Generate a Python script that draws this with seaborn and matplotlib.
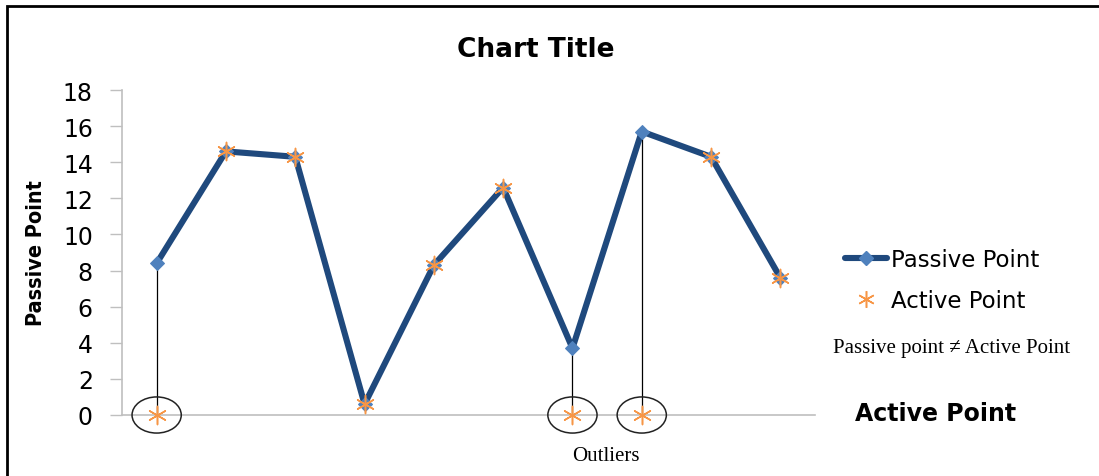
import matplotlib
matplotlib.use("Agg")
import matplotlib.pyplot as plt
from matplotlib.lines import Line2D
from matplotlib.patches import Ellipse, Rectangle
import seaborn as sns
import pandas as pd

# Chart data
points = [1, 2, 3, 4, 5, 6, 7, 8, 9, 10]
passive = [8.4, 14.6, 14.3, 0.6, 8.3, 12.6, 3.7, 15.7, 14.3, 7.6]
active = [0, 14.6, 14.3, 0.6, 8.3, 12.6, 0, 0, 14.3, 7.6]
y_ticks = [0, 2, 4, 6, 8, 10, 12, 14, 16, 18]

df = pd.DataFrame({"point": points, "passive": passive, "active": active})
outliers = df[df["passive"] != df["active"]]

sns.set_theme(style="white")
plt.rcParams["font.family"] = ["DejaVu Sans"]
plt.rcParams["text.color"] = "black"
plt.rcParams["axes.labelcolor"] = "black"

W, H = 1099, 477
fig = plt.figure(figsize=(W / 100, H / 100), dpi=100)
ax = fig.add_axes([122 / W, 61 / H, 693 / W, 325 / H])

line_col = "#1F497D"
marker_col = "#4F81BD"
star_col = "#F79646"
axis_col = "#BFBFBF"
serif = ["Liberation Serif", "DejaVu Serif"]

sns.lineplot(data=df, x="point", y="passive", ax=ax, color=line_col, lw=4.4,
             marker="D", markersize=7, markerfacecolor=marker_col,
             markeredgecolor=marker_col, zorder=3, clip_on=False)
sns.scatterplot(data=df, x="point", y="active", ax=ax, marker=(6, 2, 0),
                s=170, color=star_col, edgecolor=star_col, linewidth=1.1,
                zorder=4, clip_on=False)

# drop lines and rings marking the outliers
ax.vlines(outliers["point"], outliers["active"], outliers["passive"],
          color="black", lw=0.9, zorder=2)
for p in outliers["point"]:
    ax.add_patch(Ellipse((p, 0), width=0.71, height=2.0, fill=False,
                         edgecolor="#222222", lw=1.1, zorder=5, clip_on=False))

ax.set_xlim(0.5, 10.5)
ax.set_ylim(0, 18)
ax.set_yticks(y_ticks)
ax.set_xticks([])
ax.set_xlabel("")
ax.set_ylabel("Passive Point", fontsize=15.5, fontweight="bold",
              fontstretch="condensed", labelpad=12, color="black")
ax.tick_params(axis="y", labelsize=17, length=9, width=1.0, color=axis_col,
               left=True, pad=12, labelcolor="black")
for side in ["top", "right"]:
    ax.spines[side].set_visible(False)
for side in ["left", "bottom"]:
    ax.spines[side].set_color(axis_col)
    ax.spines[side].set_linewidth(1.2)
ax.spines["bottom"].set_zorder(1)

fig.text(536 / W, 1 - 50 / H, "Chart Title", ha="center", va="center",
         fontsize=19, fontweight="bold", color="black")

handles = [
    Line2D([], [], color=line_col, lw=4.4, marker="D", markersize=7,
           markerfacecolor=marker_col, markeredgecolor=marker_col),
    Line2D([], [], color=star_col, lw=0, marker=(6, 2, 0), markersize=12,
           markeredgewidth=1.1),
]
fig.legend(handles, ["Passive Point", "Active Point"], loc="center left",
           bbox_to_anchor=(845 / W, 1 - 281 / H), frameon=False,
           fontsize=16.5, handlelength=1.85, handletextpad=0.15,
           labelspacing=0.8, borderaxespad=0, borderpad=0,
           labelcolor="black")

fig.text(833 / W, 1 - 349 / H, "Passive point \u2260 Active Point",
         ha="left", va="center", fontsize=15, family=serif, color="black")
fig.text(855 / W, 1 - 414 / H, "Active Point", ha="left", va="center",
         fontsize=17, fontweight="bold", color="black")
fig.text(606 / W, 1 - 457 / H, "Outliers", ha="center", va="center",
         fontsize=15, family=serif, color="black")

# outer frame (top and left edges visible)
fig.patches.append(Rectangle((7 / W, -0.1), 1.2, (1 - 7 / H) + 0.1,
                             transform=fig.transFigure, fill=False,
                             edgecolor="black", lw=2.0))

fig.savefig("out.png", dpi=100)
